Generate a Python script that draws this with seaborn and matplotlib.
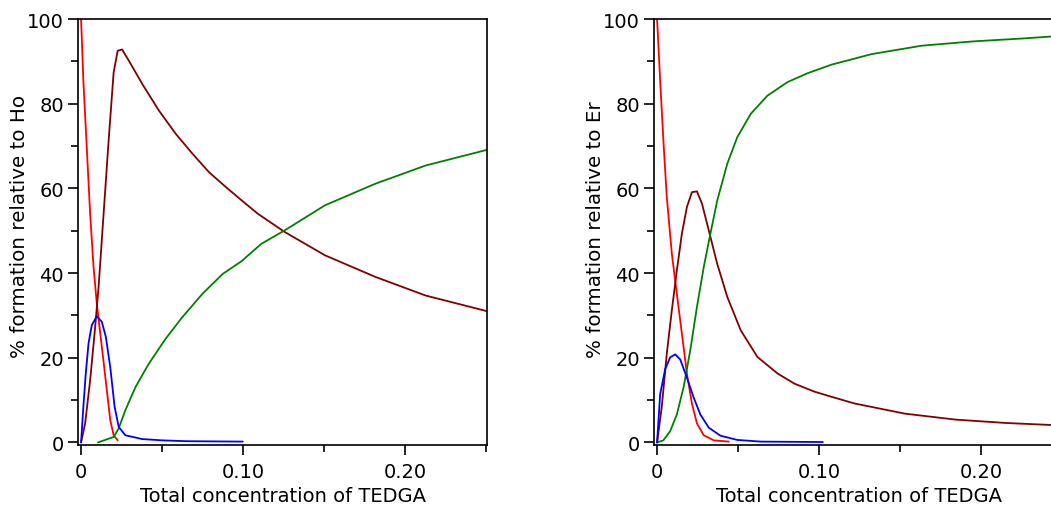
import numpy as np
import pandas as pd
import matplotlib
matplotlib.use("Agg")
import matplotlib.pyplot as plt
import seaborn as sns
from matplotlib.ticker import FixedLocator, FuncFormatter

# ---------------- data ----------------
# Ho panel
ho_red_x = [0.0, 0.0014, 0.0035, 0.0056, 0.0077, 0.0097, 0.0128, 0.0159, 0.0180, 0.0201, 0.0226]
ho_red_y = [100, 85.5, 69.7, 54, 41.4, 32.8, 22.6, 12.3, 5.3, 1.7, 0.5]

ho_dred_x = [0.0, 0.0025, 0.0056, 0.0087, 0.0108, 0.0139, 0.0170, 0.0201, 0.0226, 0.0253,
             0.0294, 0.0377, 0.048, 0.0584, 0.0687, 0.079, 0.0894, 0.0990, 0.1091,
             0.1257, 0.1505, 0.1816, 0.2126, 0.2505]
ho_dred_y = [0, 4.5, 14.7, 27.3, 36.7, 54, 71.3, 87.4, 92.5, 92.8,
             90.2, 84.7, 78.4, 72.9, 68.2, 63.8, 60.3, 57.2, 54,
             49.7, 44.2, 39.1, 34.7, 31.0]

ho_green_x = [0.0104, 0.0134, 0.0201, 0.0232, 0.0273, 0.0336, 0.0418, 0.0522, 0.0625, 0.0749,
              0.0874, 0.0990, 0.1112, 0.1257, 0.1505, 0.1816, 0.2126, 0.2505]
ho_green_y = [0, 0.4, 1.3, 3.3, 7.6, 13.1, 18.6, 24.5, 29.6, 35.1,
              39.8, 42.8, 46.9, 50.1, 56.0, 61.1, 65.4, 69.1]

ho_blue_x = [0.0, 0.0014, 0.0029, 0.0046, 0.0066, 0.0097, 0.0128, 0.0153, 0.0180, 0.0207,
             0.0232, 0.0273, 0.0377, 0.0501, 0.0646, 0.0998]
ho_blue_y = [0, 8.4, 16.3, 23.4, 27.7, 29.8, 28.5, 24.9, 17.8, 8.4,
             3.7, 1.7, 0.8, 0.5, 0.3, 0.2]

# Er panel
er_red_x = [0.0, 0.0019, 0.0039, 0.0060, 0.0091, 0.0122, 0.0153, 0.0184, 0.0215, 0.0246,
            0.0288, 0.0350, 0.0443]
er_red_y = [100, 85.5, 71.3, 57.9, 44.6, 35.1, 25.7, 16.3, 9.2, 4.5,
            1.7, 0.5, 0.2]

er_dred_x = [0.0, 0.0029, 0.0060, 0.0091, 0.0122, 0.0153, 0.0184, 0.0215, 0.0246, 0.0277,
             0.0319, 0.0371, 0.0433, 0.0516, 0.0619, 0.0743, 0.0847, 0.0971, 0.1075,
             0.1219, 0.1530, 0.1841, 0.2153, 0.2447]
er_dred_y = [0, 8.4, 21, 31.2, 40.6, 49.3, 55.6, 59.1, 59.3, 56.4,
             50.1, 42.2, 34.4, 26.5, 20.2, 16.3, 13.9, 12.0, 10.8,
             9.2, 6.8, 5.4, 4.6, 4.1]

er_green_x = [0.0, 0.0039, 0.0081, 0.0122, 0.0164, 0.0205, 0.0246, 0.0288, 0.0329, 0.0371,
              0.0433, 0.0495, 0.0578, 0.0681, 0.0805, 0.0929, 0.1075, 0.1323, 0.1634,
              0.1946, 0.2256, 0.2447]
er_green_y = [0, 0.5, 2.7, 6.6, 13.1, 21.8, 32, 41.4, 49.3, 57.1,
              65.8, 72.1, 77.6, 81.9, 85.1, 87.2, 89.2, 91.7, 93.7,
              94.7, 95.4, 95.9]

er_blue_x = [0.0, 0.0019, 0.0050, 0.0081, 0.0112, 0.0143, 0.0184, 0.0226, 0.0267, 0.0319,
             0.0391, 0.0495, 0.0640, 0.1023]
er_blue_y = [0, 11.4, 17.3, 20.1, 20.8, 19.6, 15.3, 10.6, 6.6, 3.5,
             1.6, 0.6, 0.2, 0.1]

panels = [
    ("Ho", [("red", ho_red_x, ho_red_y), ("dred", ho_dred_x, ho_dred_y),
            ("green", ho_green_x, ho_green_y), ("blue", ho_blue_x, ho_blue_y)]),
    ("Er", [("red", er_red_x, er_red_y), ("dred", er_dred_x, er_dred_y),
            ("green", er_green_x, er_green_y), ("blue", er_blue_x, er_blue_y)]),
]
palette = {"red": "#ff0000", "dred": "#800000", "green": "#008000", "blue": "#0000ff"}

x_major = [0, 0.10, 0.20]
x_minor = [0.05, 0.15, 0.25]
y_major = [0, 20, 40, 60, 80, 100]
y_minor = [10, 30, 50, 70, 90]

xlabel = "Total concentration of TEDGA"
ylabel_tpl = "% formation relative to {}"

# ---------------- plotting ----------------
sns.set_style("ticks")
plt.rcParams['font.family'] = ['DejaVu Sans']
plt.rcParams['font.size'] = 14
plt.rcParams['text.color'] = 'black'
plt.rcParams['axes.labelcolor'] = 'black'
plt.rcParams['xtick.color'] = 'black'
plt.rcParams['ytick.color'] = 'black'

W, H = 1051, 506
fig = plt.figure(figsize=(W / 100, H / 100), dpi=100)

ax_w, ax_h = 409, 426
positions = [(78, 20), (654, 20)]

for (metal, series), (px, py) in zip(panels, positions):
    ax = fig.add_axes([px / W, 1 - (py + ax_h) / H, ax_w / W, ax_h / H])
    rows = []
    for name, xs, ys in series:
        for x, y in zip(xs, ys):
            rows.append({"species": name, "x": x, "y": y})
    df = pd.DataFrame(rows)
    sns.lineplot(data=df, x="x", y="y", hue="species", palette=palette,
                 sort=False, estimator=None, legend=False, linewidth=1.3, ax=ax)
    ax.set_xlim(-0.0019, 0.2505)
    ax.set_ylim(-0.6, 100)
    ax.xaxis.set_major_locator(FixedLocator(x_major))
    ax.xaxis.set_minor_locator(FixedLocator(x_minor))
    ax.yaxis.set_major_locator(FixedLocator(y_major))
    ax.yaxis.set_minor_locator(FixedLocator(y_minor))
    ax.xaxis.set_major_formatter(FuncFormatter(lambda v, p: "0" if v == 0 else f"{v:.2f}"))
    ax.yaxis.set_major_formatter(FuncFormatter(lambda v, p: f"{v:.0f}"))
    ax.tick_params(which="major", length=7.2, width=1.2, colors="black",
                   labelcolor="black", labelsize=14)
    ax.tick_params(which="minor", length=5, width=1.2, colors="black")
    ax.tick_params(axis="x", which="major", pad=5)
    ax.tick_params(axis="y", which="major", pad=3)
    for s in ax.spines.values():
        s.set_linewidth(1.2)
        s.set_color("black")
    ax.set_xlabel(xlabel, fontsize=14, color="black")
    ax.set_ylabel(ylabel_tpl.format(metal), fontsize=14.3, color="black", ha="left")
    ax.xaxis.set_label_coords(0.5, -(487 - 446) / ax_h)
    ax.yaxis.set_label_coords(-(78 - 29) / ax_w, (446 - 358) / ax_h)

fig.savefig("out.png", dpi=100)
